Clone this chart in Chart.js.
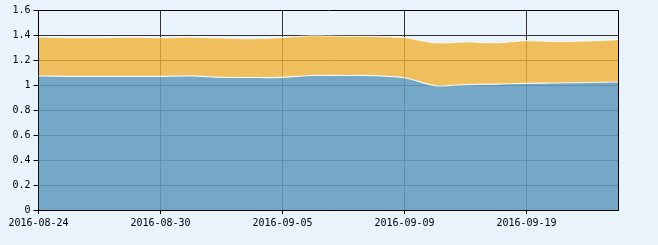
<!DOCTYPE html>
<html>
<head>
<meta charset="utf-8">
<script src="https://cdn.jsdelivr.net/npm/chart.js@4"></script>
<style>
  html, body { margin: 0; padding: 0; background: #e8f3fb; }
  #wrap { width: 658px; height: 245px; }
</style>
</head>
<body>
<div id="wrap"><canvas id="navChart" width="658" height="245"></canvas></div>
<script>
// trading days shown on the x axis
const dates = [
    '2016-08-24', '2016-08-25', '2016-08-26', '2016-08-29', '2016-08-30',
    '2016-08-31', '2016-09-01', '2016-09-02', '2016-09-05', '2016-09-06',
    '2016-09-07', '2016-09-08', '2016-09-09', '2016-09-12', '2016-09-13',
    '2016-09-14', '2016-09-19', '2016-09-20', '2016-09-21', '2016-09-22'
];
// lower (blue) series
const unitValues = [
    1.072, 1.069, 1.069, 1.069, 1.069, 1.073, 1.061, 1.060, 1.061, 1.076,
    1.076, 1.075, 1.058, 0.995, 1.003, 1.007, 1.013, 1.016, 1.020, 1.024
];
// upper (orange) series
const totalValues = [
    1.384, 1.379, 1.378, 1.383, 1.378, 1.383, 1.376, 1.371, 1.381, 1.394,
    1.390, 1.389, 1.378, 1.338, 1.344, 1.338, 1.355, 1.347, 1.352, 1.363
];
const yTicks = [0, 0.2, 0.4, 0.6, 0.8, 1, 1.2, 1.4, 1.6];

const labelEvery = 4;
const lastIdx = dates.length - 1;

const ctx = document.getElementById('navChart');

new Chart(ctx, {
    type: 'line',
    data: {
        labels: dates,
        datasets: [{
            label: 'unit',
            data: unitValues,
            borderColor: 'rgba(255, 255, 255, 0.85)',
            borderWidth: 1.2,
            backgroundColor: 'rgba(99, 157, 190, 0.88)',
            fill: 'origin',
            pointRadius: 0,
            tension: 0.25
        }, {
            label: 'total',
            data: totalValues,
            borderColor: 'rgba(255, 255, 255, 0.7)',
            borderWidth: 1.2,
            backgroundColor: 'rgba(241, 178, 54, 0.8)',
            fill: '-1',
            pointRadius: 0,
            tension: 0.25
        }]
    },
    options: {
        responsive: false,
        animation: false,
        layout: { padding: { left: 0, right: 40, top: 10, bottom: 0 } },
        plugins: { legend: { display: false }, tooltip: { enabled: false } },
        scales: {
            x: {
                offset: false,
                afterFit: s => { s.height = 35; },
                border: { color: '#000', width: 1 },
                grid: {
                    color: c => c.index % labelEvery === 0 ? '#333' : (c.index === lastIdx ? '#000' : 'rgba(0,0,0,0)'),
                    tickColor: c => c.index % labelEvery === 0 ? '#000' : 'rgba(0,0,0,0)',
                    tickLength: 4
                },
                ticks: {
                    autoSkip: false,
                    maxRotation: 0,
                    padding: 3,
                    color: '#000',
                    font: { family: 'DejaVu Sans Mono', size: 10 },
                    callback: (v, i) => i % labelEvery === 0 ? dates[i] : ''
                }
            },
            y: {
                min: yTicks[0],
                max: yTicks[yTicks.length - 1],
                afterFit: s => { s.width = 38.5; },
                afterBuildTicks: s => { s.ticks = yTicks.map(v => ({ value: v })); },
                border: { color: '#000', width: 1 },
                grid: {
                    color: c => c.index === yTicks.length - 1 ? '#000' : '#333',
                    tickColor: '#000',
                    tickLength: 5
                },
                ticks: {
                    padding: 3,
                    color: '#000',
                    font: { family: 'DejaVu Sans Mono', size: 10 },
                    callback: v => String(Number(v.toFixed(1)))
                }
            }
        }
    }
});
</script>
</body>
</html>
